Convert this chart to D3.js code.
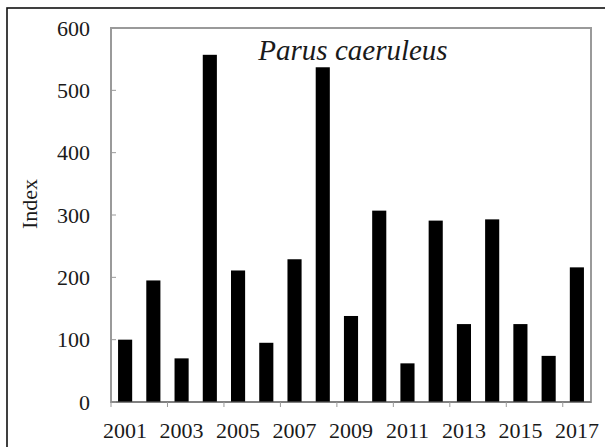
<!DOCTYPE html>
<head>
  <meta charset="utf-8">
  <script src="https://d3js.org/d3.v7.min.js"></script>
  <style>
    body { margin: 0; background: #fff; }
    .tick-label { font: 22px "Liberation Serif", serif; fill: #1a1a1a; }
    .axis-title { font: 22px "Liberation Serif", serif; fill: #1a1a1a; }
    .species { font: italic 29px "Liberation Serif", serif; fill: #1a1a1a; }
  </style>
</head>
<body>
<script>
// data
var years = ['2001','2002','2003','2004','2005','2006','2007','2008','2009',
             '2010','2011','2012','2013','2014','2015','2016','2017'];
var values = [100, 195, 70, 557, 211, 95, 229, 537, 138,
              307, 62, 291, 125, 293, 125, 74, 216];
var yTicks = [0, 100, 200, 300, 400, 500, 600];

var width = 605, height = 447;
var plotLeft = 111, plotRight = 591, plotTop = 28, plotBottom = 402;

var svg = d3.select('body').append('svg')
  .attr('width', width)
  .attr('height', height);

// outer frame (only left + top edge show)
svg.append('rect')
  .attr('x', 7).attr('y', 8)
  .attr('width', width).attr('height', height)
  .style('fill', 'none')
  .style('stroke', '#111')
  .style('stroke-width', 1.6);

var x = d3.scaleBand()
  .domain(years)
  .range([plotLeft, plotRight])
  .paddingInner(0.5)
  .paddingOuter(0.25);

var y = d3.scaleLinear()
  .domain([0, 600])
  .range([plotBottom, plotTop]);

// plot area border
svg.append('rect')
  .attr('x', plotLeft).attr('y', plotTop)
  .attr('width', plotRight - plotLeft).attr('height', plotBottom - plotTop)
  .style('fill', 'none')
  .style('stroke', '#9a9a9a')
  .style('stroke-width', 2);

// bars
svg.selectAll('.bar')
  .data(values)
  .enter().append('rect')
  .attr('class', 'bar')
  .attr('x', function(d, i) { return x(years[i]); })
  .attr('width', x.bandwidth())
  .attr('y', function(d) { return y(d); })
  .attr('height', function(d) { return plotBottom - y(d); })
  .style('fill', '#000');

// baseline
svg.append('line')
  .attr('x1', plotLeft).attr('x2', plotRight)
  .attr('y1', plotBottom).attr('y2', plotBottom)
  .style('stroke', '#666')
  .style('stroke-width', 1);

// y ticks + labels
svg.selectAll('.ytick')
  .data(yTicks)
  .enter().append('line')
  .attr('x1', plotLeft).attr('x2', plotLeft + 5)
  .attr('y1', function(d) { return y(d); })
  .attr('y2', function(d) { return y(d); })
  .style('stroke', '#999');

svg.selectAll('.ylab')
  .data(yTicks)
  .enter().append('text')
  .attr('class', 'tick-label')
  .attr('x', 90)
  .attr('y', function(d) { return y(d); })
  .attr('dy', '0.35em')
  .attr('text-anchor', 'end')
  .text(function(d) { return d; });

// x ticks sit on every second category boundary
var xTickIdx = d3.range(0, years.length + 1, 2);
svg.selectAll('.xtick')
  .data(xTickIdx)
  .enter().append('line')
  .attr('x1', function(d) { return plotLeft + d * x.step(); })
  .attr('x2', function(d) { return plotLeft + d * x.step(); })
  .attr('y1', plotBottom).attr('y2', plotBottom + 5)
  .style('stroke', '#999');

svg.selectAll('.xlab')
  .data(years.filter(function(d, i) { return i % 2 === 0; }))
  .enter().append('text')
  .attr('class', 'tick-label')
  .attr('x', function(d) { return x(d) + x.bandwidth() / 2; })
  .attr('y', 438)
  .attr('text-anchor', 'middle')
  .text(function(d) { return d; });

// axis title
svg.append('text')
  .attr('class', 'axis-title')
  .attr('transform', 'translate(37,204) rotate(-90)')
  .attr('text-anchor', 'middle')
  .text('Index');

svg.append('text')
  .attr('class', 'species')
  .attr('x', 353)
  .attr('y', 60)
  .attr('text-anchor', 'middle')
  .text('Parus caeruleus');
</script>
</body>
